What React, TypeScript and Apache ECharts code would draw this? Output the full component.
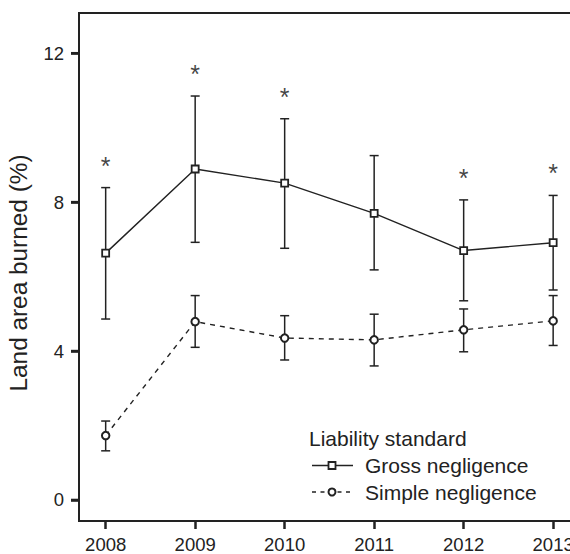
import React, { useEffect, useRef } from "react";
import * as echarts from "echarts";

const years = [2008, 2009, 2010, 2011, 2012, 2013];
const grossMean = [6.63, 8.89, 8.51, 7.7, 6.7, 6.91];
const grossLower = [4.86, 6.92, 6.76, 6.18, 5.35, 5.64];
const grossUpper = [8.39, 10.85, 10.24, 9.25, 8.06, 8.18];
const simpleMean = [1.73, 4.79, 4.35, 4.3, 4.57, 4.81];
const simpleLower = [1.32, 4.1, 3.76, 3.6, 3.98, 4.15];
const simpleUpper = [2.12, 5.49, 4.95, 4.99, 5.13, 5.49];
const significantYears = [2008, 2009, 2010, 2012, 2013];
const yTicks = [0, 4, 8, 12];
const seriesNames = ["Gross negligence", "Simple negligence"];
const legendTitle = "Liability standard";
const yAxisTitle = "Land area burned (%)";

const INK = "#222222";
const FONT = "'Liberation Sans', Arial, Helvetica, sans-serif";
const X_MIN = 2007.702;
const X_MAX = 2013.3;

function errorBarRender(params: any, api: any) {
  const x = api.value(0);
  const lo = api.coord([x, api.value(1)]);
  const hi = api.coord([x, api.value(2)]);
  const hw = 4.5;
  const style = { stroke: INK, lineWidth: 1.5 };
  return {
    type: "group",
    children: [
      { type: "line", shape: { x1: lo[0], y1: lo[1], x2: hi[0], y2: hi[1] }, style },
      { type: "line", shape: { x1: hi[0] - hw, y1: hi[1], x2: hi[0] + hw, y2: hi[1] }, style },
      { type: "line", shape: { x1: lo[0] - hw, y1: lo[1], x2: lo[0] + hw, y2: lo[1] }, style },
    ],
  };
}

function yTickRender(params: any, api: any) {
  const p = api.coord([X_MIN, api.value(1)]);
  return {
    type: "line",
    shape: { x1: p[0] - 8, y1: p[1], x2: p[0], y2: p[1] },
    style: { stroke: INK, lineWidth: 2.5 },
  };
}

export default function App() {
  const ref = useRef<HTMLDivElement>(null);
  useEffect(() => {
    if (!ref.current) return;
    const chart = echarts.init(ref.current, null, { renderer: "svg" });
    const grossPts = years.map((y, i) => [y, grossMean[i]]);
    const simplePts = years.map((y, i) => [y, simpleMean[i]]);
    const grossErr = years.map((y, i) => [y, grossLower[i], grossUpper[i]]);
    const simpleErr = years.map((y, i) => [y, simpleLower[i], simpleUpper[i]]);
    const sigPts = significantYears.map((y) => [y, grossUpper[years.indexOf(y)]]);
    const yTickPts = yTicks.map((v) => [X_MIN, v]);

    chart.setOption({
      animation: false,
      backgroundColor: "#ffffff",
      textStyle: { fontFamily: FONT, color: INK },
      grid: {
        left: 79,
        top: 13,
        right: -10,
        bottom: 33,
        show: true,
        borderColor: INK,
        borderWidth: 2,
        outerBoundsMode: "none",
        containLabel: false,
      },
      xAxis: {
        type: "value",
        min: X_MIN,
        max: X_MAX,
        axisLine: { show: false, onZero: false },
        splitLine: { show: false },
        axisTick: {
          show: true,
          length: 8,
          inside: false,
          lineStyle: { color: INK, width: 2.5 },
          customValues: years,
        },
        axisLabel: {
          customValues: years,
          formatter: (v: number) => String(v),
          fontSize: 18.5,
          color: INK,
          fontFamily: FONT,
          margin: 14,
        },
      },
      yAxis: {
        type: "value",
        min: -0.565,
        max: 13.08,
        axisLine: { show: false, onZero: false },
        splitLine: { show: false },
        axisTick: {
          show: true,
          length: 8,
          lineStyle: { color: INK, width: 2.5 },
          customValues: yTicks,
        },
        axisLabel: {
          customValues: yTicks,
          formatter: (v: number) => String(v),
          fontSize: 18.5,
          color: INK,
          fontFamily: FONT,
          margin: 15,
        },
      },
      graphic: [
        {
          type: "text",
          x: 19,
          y: 273,
          rotation: Math.PI / 2,
          scaleX: 1.06,
          style: {
            text: yAxisTitle,
            fontSize: 23,
            fontFamily: FONT,
            fill: INK,
            align: "center",
            verticalAlign: "middle",
          },
        },
        {
          type: "text",
          x: 309,
          y: 438,
          style: {
            text: legendTitle,
            fontSize: 21,
            fontFamily: FONT,
            fill: INK,
            align: "left",
            verticalAlign: "middle",
          },
        },
        {
          type: "line",
          shape: { x1: 312, y1: 465.5, x2: 353, y2: 465.5 },
          style: { stroke: INK, lineWidth: 1.4 },
        },
        {
          type: "rect",
          shape: { x: 328.5, y: 462, width: 7, height: 7 },
          style: { fill: "#fff", stroke: INK, lineWidth: 1.8 },
        },
        {
          type: "text",
          x: 365,
          y: 465.5,
          style: {
            text: seriesNames[0],
            fontSize: 21,
            fontFamily: FONT,
            fill: INK,
            align: "left",
            verticalAlign: "middle",
          },
        },
        {
          type: "line",
          shape: { x1: 312, y1: 492, x2: 353, y2: 492 },
          style: { stroke: INK, lineWidth: 1.4, lineDash: [4, 4.5] },
        },
        {
          type: "circle",
          shape: { cx: 332, cy: 492, r: 3.5 },
          style: { fill: "#fff", stroke: INK, lineWidth: 2 },
        },
        {
          type: "text",
          x: 365,
          y: 492,
          style: {
            text: seriesNames[1],
            fontSize: 21,
            fontFamily: FONT,
            fill: INK,
            align: "left",
            verticalAlign: "middle",
          },
        },
      ],
      series: [
        {
          type: "custom",
          name: "Y ticks",
          renderItem: yTickRender,
          encode: { x: 0, y: 1 },
          data: yTickPts,
          clip: false,
          z: 5,
          silent: true,
        },
        {
          type: "custom",
          name: "Gross error",
          renderItem: errorBarRender,
          encode: { x: 0, y: [1, 2] },
          data: grossErr,
          z: 1,
          silent: true,
        },
        {
          type: "custom",
          name: "Simple error",
          renderItem: errorBarRender,
          encode: { x: 0, y: [1, 2] },
          data: simpleErr,
          z: 1,
          silent: true,
        },
        {
          type: "line",
          name: seriesNames[0],
          data: grossPts,
          symbol: "rect",
          symbolSize: 7,
          showAllSymbol: true,
          lineStyle: { color: INK, width: 1.4 },
          itemStyle: { color: "#ffffff", borderColor: INK, borderWidth: 1.8 },
          z: 3,
        },
        {
          type: "line",
          name: seriesNames[1],
          data: simplePts,
          symbol: "circle",
          symbolSize: 7.5,
          showAllSymbol: true,
          lineStyle: { color: INK, width: 1.4, type: [5, 5] },
          itemStyle: { color: "#ffffff", borderColor: INK, borderWidth: 2 },
          z: 3,
        },
        {
          type: "scatter",
          name: "Significance",
          data: sigPts,
          symbol: "circle",
          symbolSize: 0,
          silent: true,
          label: {
            show: true,
            formatter: "*",
            position: "inside",
            offset: [0, -22],
            fontSize: 25,
            fontFamily: FONT,
            color: "#111111",
            verticalAlign: "middle",
            align: "center",
          },
          z: 4,
        },
      ],
    });
    return () => chart.dispose();
  }, []);
  return (
    <div
      ref={ref}
      style={{ position: "absolute", left: 0, top: 0, width: 570, height: 554 }}
    />
  );
}
